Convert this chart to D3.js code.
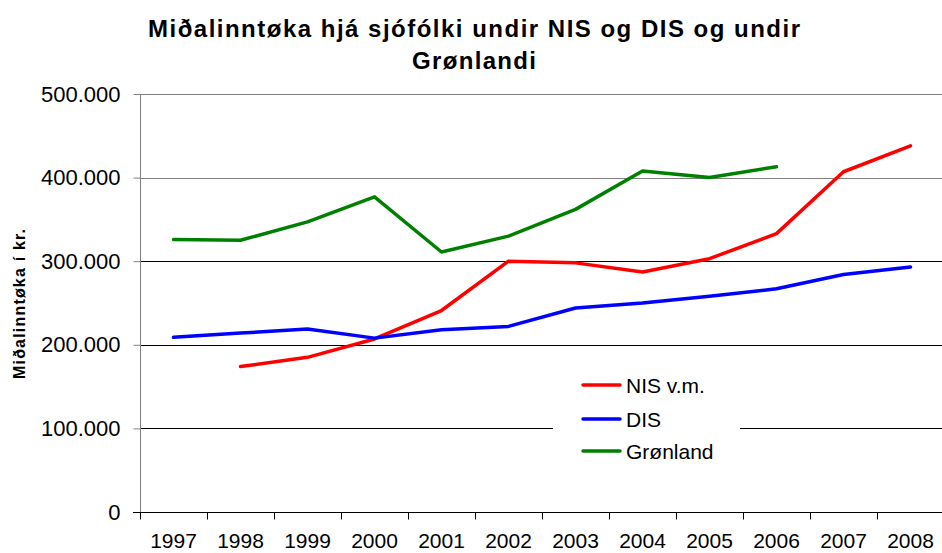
<!DOCTYPE html>
<html><head><meta charset="utf-8">
<script src="https://cdn.jsdelivr.net/npm/d3@7"></script>
<style>body{margin:0;background:#fff}svg{display:block}text{font-family:"Liberation Sans",Arial,sans-serif}</style>
</head><body><svg id="c" width="942" height="553"></svg>
<script>
const years = ["1997","1998","1999","2000","2001","2002","2003","2004","2005","2006","2007","2008"];
const nis = [null,174000,185000,207000,241000,300000,298000,287000,303000,333000,407000,438000];
const dis = [209000,214000,219000,208000,218000,222000,244000,250000,258000,267000,284000,293000];
const gron = [326000,325000,347000,377000,311000,330000,362000,408000,400000,413000,null,null];
const yTicks = [0,100000,200000,300000,400000,500000];
const seriesNames = ["NIS v.m.","DIS","Grønland"];
const seriesColors = ["#ff0000","#0000ff","#008000"];
const titleLines = ["Miðalinntøka hjá sjófólki undir NIS og DIS og undir","Grønlandi"];
const yTitle = "Miðalinntøka í kr.";

const svg = d3.select("#c");
const L=140, R=944, T=94, B=512;
const x = d3.scaleBand().domain(years).range([L,R]);
const y = d3.scaleLinear().domain([0,500000]).range([B,T]);
const fmt = v => v===0 ? "0" : d3.format(",")(v).replace(/,/g,".");

// gridlines
svg.append("g").selectAll("line").data(yTicks.filter(d=>d>0)).join("line")
  .attr("x1",L).attr("x2",R).attr("y1",d=>Math.round(y(d))+0.5).attr("y2",d=>Math.round(y(d))+0.5)
  .attr("stroke",(d)=> d>=400000?"#7f7f7f":"#000").attr("stroke-width",1);

// y axis
const ya = svg.append("g").attr("transform",`translate(${L+0.5},0)`)
  .call(d3.axisLeft(y).tickValues(yTicks).tickFormat(fmt).tickSize(7).tickPadding(13));
ya.select(".domain").attr("stroke","#808080").attr("d",`M0,${T}V${B+6}`);
ya.selectAll(".tick line").attr("stroke","#808080");
ya.selectAll("text").attr("font-size",22).attr("fill","#000").attr("font-family","Liberation Sans, Arial, sans-serif");

// x axis
const xa = svg.append("g").attr("transform",`translate(0,${B+0.5})`);
xa.append("line").attr("x1",L-7).attr("x2",R).attr("stroke","#000");
xa.selectAll("line.t").data(years).join("line").attr("class","t")
  .attr("x1",d=>Math.round(x(d))+0.5).attr("x2",d=>Math.round(x(d))+0.5).attr("y1",0).attr("y2",7).attr("stroke","#000");
xa.selectAll("text").data(years).join("text")
  .attr("x",d=>x(d)+x.bandwidth()/2).attr("y",35.5).attr("text-anchor","middle")
  .attr("font-size",21).text(d=>d);

// lines
const line = d3.line().defined(d=>d.v!=null).x(d=>x(d.k)+x.bandwidth()/2).y(d=>y(d.v));
[nis,dis,gron].forEach((arr,i)=>{
  svg.append("path").datum(arr.map((v,j)=>({k:years[j],v})))
    .attr("d",line).attr("fill","none").attr("stroke",seriesColors[i])
    .attr("stroke-width",3.5).attr("stroke-linejoin","round").attr("stroke-linecap","round");
});

// legend
const lg = svg.append("g");
lg.append("rect").attr("x",553).attr("y",362).attr("width",187).attr("height",108).attr("fill","#fff");
seriesNames.forEach((n,i)=>{
  const yy = [385,419,451][i];
  lg.append("line").attr("x1",583).attr("x2",620).attr("y1",yy).attr("y2",yy)
    .attr("stroke",seriesColors[i]).attr("stroke-width",3.5).attr("stroke-linecap","round");
  lg.append("text").attr("x",626).attr("y",yy+7.5).attr("font-size",21).text(n);
});

// titles
const tl = [652,124];
titleLines.forEach((t,i)=>{
  svg.append("text").attr("x",474).attr("y",[37,69][i]).attr("text-anchor","middle")
    .attr("font-size",24).attr("font-weight","bold")
    .attr("textLength",tl[i]).attr("lengthAdjust","spacing").text(t);
});
svg.append("text").attr("transform","translate(25,304) rotate(-90)").attr("text-anchor","middle")
  .attr("font-size",16).attr("font-weight","bold")
  .attr("textLength",150).attr("lengthAdjust","spacing").text(yTitle);
</script></body></html>
